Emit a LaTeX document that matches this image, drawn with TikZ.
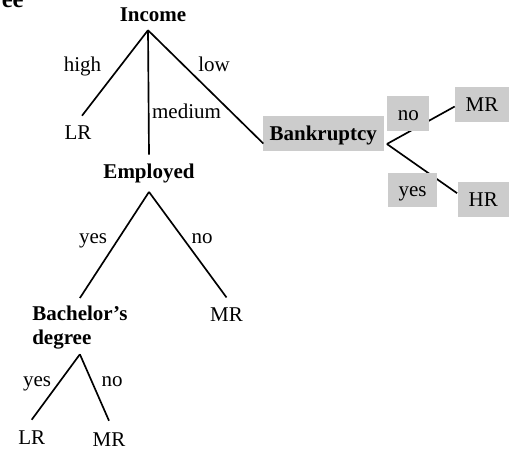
\documentclass[tikz,border=0pt]{standalone}
\usepackage{fontspec}
\setmainfont{Liberation Serif}
\usepackage{xcolor}
\usepackage{tikz}
\usetikzlibrary{calc}

\newcommand{\treefont}{\fontsize{15.75}{18.2}\selectfont}

\tikzset{
  attr/.style={inner sep=0pt, font=\treefont\bfseries, text height=18pt},
  leaf/.style={inner sep=0pt, text height=18pt, text depth=0pt},
  elab/.style={inner sep=0pt, anchor=base},
  gbox/.style={fill=gray!40, inner ysep=0pt, inner xsep=8pt, minimum height=26pt, text height=10.4pt, text depth=0pt},
  branch/.style={line width=1.25pt}
}

\begin{document}
\begin{tikzpicture}[x=0.75pt,y=0.75pt,yscale=-1,xscale=1,font=\treefont]
\useasboundingbox (0,0) rectangle (511,449);
% title, cut off at the top
\node [anchor=base west, inner sep=0pt, font=\fontsize{18.5}{20}\selectfont\bfseries] (title) at (1.5,7.5) {ee};

% attribute nodes
\node [attr, anchor=base, text depth=6.5pt] (income) at (153,21.3) {Income};
\node [attr, anchor=base, text depth=9.5pt] (employed) at (149,179) {Employed};
\node [attr, anchor=base west, text height=16.8pt, text depth=25pt] (bachelor) at (32,320.7) {\begin{tabular}[t]{@{}l@{}}Bachelor's\\degree\end{tabular}};
\node [gbox, font=\treefont\bfseries, inner xsep=5pt] (bank) at (323.3,133.3) {Bankruptcy};

% leaves
\node [leaf, anchor=base] (lrhigh) at (78,140) {LR};
\node [leaf, anchor=base] (mremp) at (226.5,321.7) {MR};
\node [leaf, anchor=base] (lrdeg) at (31.7,444.5) {LR};
\node [leaf, anchor=base] (mrdeg) at (109,446) {MR};
\node [gbox] (mrbank) at (482,104.5) {MR};
\node [gbox] (hrbank) at (483.3,199.2) {HR};

% branches
\draw [branch] ($(income.south)+(-5,0)$) -- ($(lrhigh.north)+(4,0)$);
\draw [branch] ($(income.south)+(-5,0)$) -- (employed.north);
\draw [branch] ($(income.south)+(-5,0)$) -- ($(bank.south west)+(0.6,-7.4)$);
\draw [branch] (employed.south) -- (bachelor.north);
\draw [branch] (employed.south) -- (mremp.north);
\draw [branch] (bachelor.south) -- ($(lrdeg.north)+(0,-0.5)$);
\draw [branch] (bachelor.south) -- ($(mrdeg.north)+(0,-1)$);
\draw [branch] ($(bank.east)+(3,10.7)$) -- ($(mrbank.west)+(0,2)$);
\draw [branch] ($(bank.east)+(3,10.7)$) -- ($(hrbank.west)+(-0.7,-6)$);

% branch labels
\node [elab] (lhigh) at (82.5,71.6) {high};
\node [elab] (llow) at (214,71.6) {low};
\node [elab] (lmedium) at (186.5,118.3) {medium};
\node [elab] (lyesemp) at (93,243.7) {yes};
\node [elab] (lnoemp) at (202,243.7) {no};
\node [elab] (lyesdeg) at (37,386.5) {yes};
\node [elab] (lnodeg) at (112,386) {no};
\node [gbox] (lnobank) at (408.3,113.3) {no};
\node [gbox] (lyesbank) at (412.5,190) {yes};
\end{tikzpicture}
\end{document}
